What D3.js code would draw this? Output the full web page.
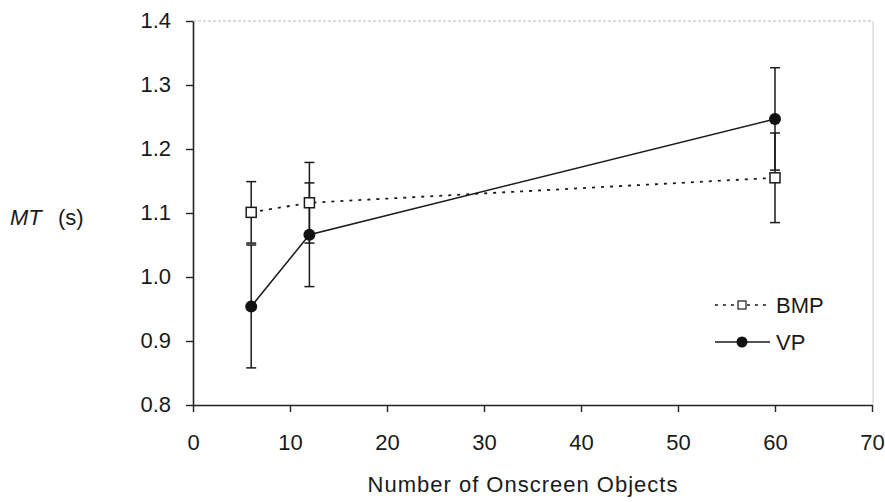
<!DOCTYPE html>
<html>
<head>
<meta charset="utf-8">
<script src="https://cdn.jsdelivr.net/npm/d3@7"></script>
<style>
  body { margin: 0; background: #fff; }
  text { font-family: "Liberation Sans", Arial, sans-serif; fill: #1a1a1a; }
</style>
</head>
<body>
<div id="chart"></div>
<script>
// data
const xValues = [6, 12, 60];
const bmpMean = [1.101, 1.116, 1.155];
const bmpErr = [0.048, 0.063, 0.070];
const vpMean = [0.954, 1.066, 1.247];
const vpErr = [0.096, 0.081, 0.080];
const xTicks = [0, 10, 20, 30, 40, 50, 60, 70];
const yTicks = [0.8, 0.9, 1.0, 1.1, 1.2, 1.3, 1.4];

const W = 885, H = 502;
const plotLeft = 193, plotRight = 872, plotTop = 21, plotBottom = 405;
const fontSize = 22;

const svg = d3.select("#chart")
  .append("svg")
  .attr("width", W)
  .attr("height", H);

const x = d3.scaleLinear().domain([0, 70]).range([plotLeft, plotRight]);
const y = d3.scaleLinear().domain([0.8, 1.4]).range([plotBottom, plotTop]);

// top grid line and right border (light)
svg.append("line")
  .attr("x1", plotLeft).attr("x2", plotRight + 1)
  .attr("y1", y(1.4)).attr("y2", y(1.4))
  .attr("stroke", "#bbb").attr("stroke-dasharray", "3,2");
svg.append("line")
  .attr("x1", plotRight + 1).attr("x2", plotRight + 1)
  .attr("y1", y(1.4)).attr("y2", plotBottom)
  .attr("stroke", "#ccc");

// axes
const xAxis = svg.append("g")
  .attr("transform", `translate(0,${plotBottom})`)
  .call(d3.axisBottom(x).tickValues(xTicks).tickSize(7).tickPadding(22).tickSizeOuter(0));
const yAxis = svg.append("g")
  .attr("transform", `translate(${plotLeft},0)`)
  .call(d3.axisLeft(y).tickValues(yTicks).tickFormat(d3.format(".1f")).tickSize(7).tickPadding(15).tickSizeOuter(0));

[xAxis, yAxis].forEach(a => {
  a.select(".domain").attr("stroke", "#222").attr("stroke-width", 1.6);
  a.selectAll(".tick line").attr("stroke", "#222").attr("stroke-width", 1.4);
  a.selectAll(".tick text").attr("font-size", fontSize).attr("fill", "#1a1a1a")
    .style("font-family", "Liberation Sans, Arial, sans-serif");
});
yAxis.selectAll(".tick text").attr("dy", "0.28em");

// axis titles
svg.append("text")
  .attr("x", 523)
  .attr("y", 492)
  .attr("text-anchor", "middle")
  .attr("font-size", fontSize)
  .attr("letter-spacing", 1)
  .text("Number of Onscreen Objects");

svg.append("text")
  .attr("x", 10).attr("y", 225)
  .attr("font-size", fontSize)
  .attr("font-style", "italic")
  .text("MT");
svg.append("text")
  .attr("x", 58).attr("y", 225)
  .attr("font-size", fontSize)
  .text("(s)");

const series = [
  { name: "BMP", mean: bmpMean, err: bmpErr, dash: "3,6", shape: "square" },
  { name: "VP", mean: vpMean, err: vpErr, dash: null, shape: "circle" }
];

const line = d3.line().x(d => x(d.x)).y(d => y(d.y));

// error bars
series.forEach(s => {
  const pts = xValues.map((v, i) => ({ x: v, y: s.mean[i], e: s.err[i] }));
  const g = svg.append("g").attr("stroke", "#1a1a1a").attr("stroke-width", 1.5);
  pts.forEach(p => {
    g.append("line").attr("x1", x(p.x)).attr("x2", x(p.x))
      .attr("y1", y(p.y + p.e)).attr("y2", y(p.y - p.e));
    [p.y + p.e, p.y - p.e].forEach(v => {
      g.append("line").attr("x1", x(p.x) - 5).attr("x2", x(p.x) + 5)
        .attr("y1", y(v)).attr("y2", y(v));
    });
  });
});

// lines and markers
function marker(g, s, cx, cy) {
  if (s.shape === "square") {
    g.append("rect")
      .attr("x", cx - 5).attr("y", cy - 5).attr("width", 10).attr("height", 10)
      .attr("fill", "#fff").attr("stroke", "#1a1a1a").attr("stroke-width", 1.5);
  } else {
    g.append("circle")
      .attr("cx", cx).attr("cy", cy).attr("r", 6)
      .attr("fill", "#111");
  }
}

series.forEach(s => {
  const pts = xValues.map((v, i) => ({ x: v, y: s.mean[i] }));
  svg.append("path")
    .datum(pts)
    .attr("d", line)
    .attr("fill", "none")
    .attr("stroke", "#1a1a1a")
    .attr("stroke-width", s.dash ? 1.8 : 1.5)
    .attr("stroke-dasharray", s.dash);
  const g = svg.append("g");
  pts.forEach(p => marker(g, s, x(p.x), y(p.y)));
});

// legend
const legend = svg.append("g");
series.forEach((s, i) => {
  const ly = 305 + i * 37;
  legend.append("line")
    .attr("x1", 715).attr("x2", 770)
    .attr("y1", ly).attr("y2", ly)
    .attr("stroke", "#1a1a1a")
    .attr("stroke-width", s.dash ? 1.6 : 1.3)
    .attr("stroke-dasharray", s.dash ? "3,5" : null);
  if (s.shape === "square") {
    legend.append("rect").attr("x", 738).attr("y", ly - 4).attr("width", 8).attr("height", 8)
      .attr("fill", "#fff").attr("stroke", "#1a1a1a").attr("stroke-width", 1.2);
  } else {
    legend.append("circle").attr("cx", 742).attr("cy", ly).attr("r", 5.5).attr("fill", "#111");
  }
  legend.append("text")
    .attr("x", 776).attr("y", ly + 8)
    .attr("font-size", fontSize)
    .text(s.name);
});
</script>
</body>
</html>
